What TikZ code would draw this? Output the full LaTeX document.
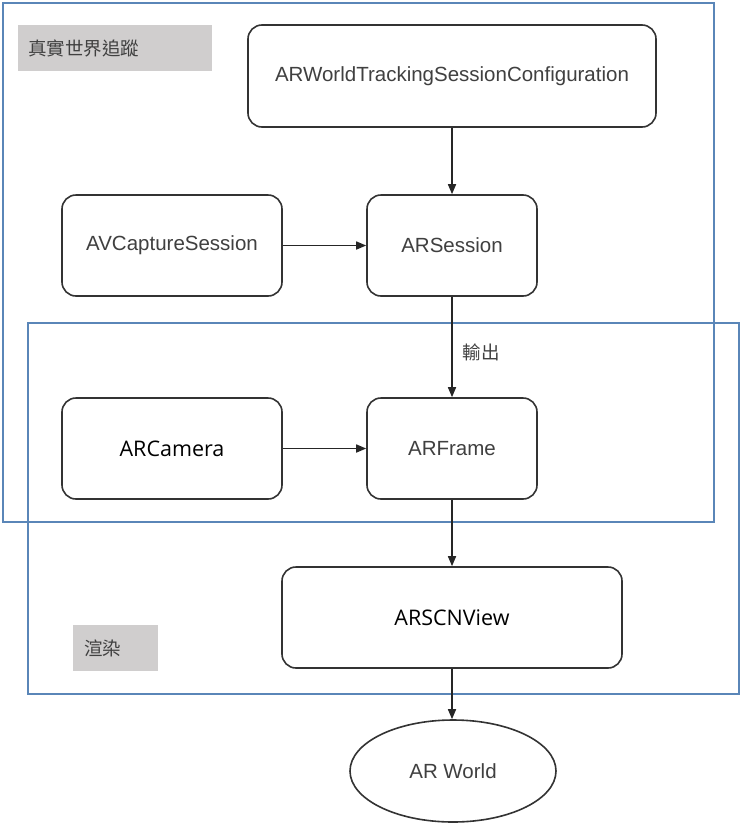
\documentclass[tikz,border=0pt]{standalone}
\usepackage{fontspec}
\setmainfont{Liberation Sans}
\newfontfamily\osans{Open Sans}
\newfontfamily\cjk{Noto Sans CJK TC}
\usetikzlibrary{arrows.meta,shapes.geometric}
\definecolor{frameblue}{HTML}{5A86B8}
\definecolor{labelgray}{HTML}{D0CECE}
\definecolor{boxline}{HTML}{333333}
\definecolor{txtgray}{HTML}{404040}
\tikzset{
  rbox/.style={draw=boxline, line width=1.6pt, rounded corners=14pt, fill=white,
    inner sep=0pt, text=txtgray, font=\fontsize{20.5}{24}\selectfont},
  bbox/.style={rbox, text=black, font=\osans\fontsize{21.5}{25}\selectfont},
  frame/.style={draw=frameblue, line width=1.2pt},
  glabel/.style={fill=labelgray, draw=none},
  cjklab/.style={font=\cjk\fontsize{18.5}{22}\selectfont, text=black!75, inner sep=0pt},
  flow/.style={line width=1.6pt, draw=black!85, -{Triangle[length=10pt,width=8pt]}}
}
\begin{document}
\begin{tikzpicture}[x=1pt,y=-1pt]
\useasboundingbox (0,0) rectangle (743,825);
% frames
\draw[frame] (3,3) rectangle (714,522);
\draw[frame] (28,323) rectangle (739,694);
% group labels
\fill[glabel] (18,25) rectangle (212,71);
\node[cjklab, anchor=west] (lab1) at (28,48) {真實世界追蹤};
\fill[glabel] (73,625) rectangle (158,671);
\node[cjklab, anchor=west] (lab2) at (84,648) {渲染};
% nodes
\node[rbox, minimum width=408pt, minimum height=102pt] (config) at (452,76) {ARWorldTrackingSessionConfiguration};
\node[rbox, minimum width=220pt, minimum height=101pt] (avcap) at (172,245.5) {AVCaptureSession};
\node[rbox, minimum width=170pt, minimum height=101pt] (session) at (452,245.5) {ARSession};
\node[bbox, minimum width=220pt, minimum height=101pt] (camera) at (172,448.5) {ARCamera};
\node[rbox, minimum width=170pt, minimum height=101pt] (frame) at (452,448.5) {ARFrame};
\node[bbox, minimum width=340pt, minimum height=101pt] (scnview) at (452,617.5) {ARSCNView};
\node[ellipse, draw=boxline, line width=1.6pt, fill=white, inner sep=0pt,
  minimum width=206pt, minimum height=102pt, text=txtgray,
  font=\fontsize{20.5}{24}\selectfont] (world) at (453,771) {AR World};
% connectors
\draw[flow] (config) -- (session);
\draw[flow] (avcap) -- (session);
\draw[flow] (session) -- node[cjklab, right=10pt, pos=0.55] (out) {輸出} (frame);
\draw[flow] (camera) -- (frame);
\draw[flow] (frame) -- (scnview);
\draw[flow] (scnview.south) -- (scnview.south |- world.north);
\end{tikzpicture}
\end{document}
